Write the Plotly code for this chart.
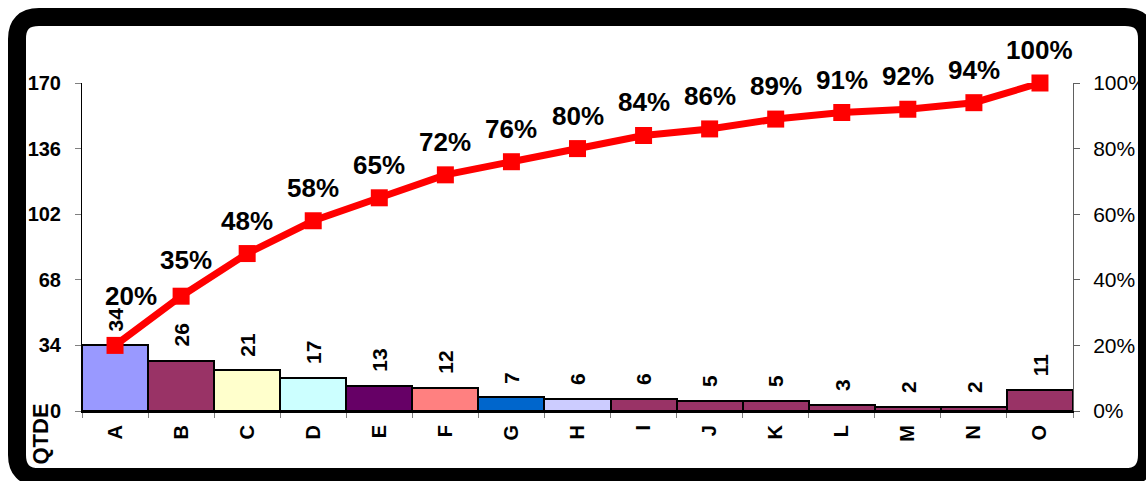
import plotly.graph_objects as go

categories = ["A", "B", "C", "D", "E", "F", "G", "H", "I", "J", "K", "L", "M", "N", "O"]
counts = [34, 26, 21, 17, 13, 12, 7, 6, 6, 5, 5, 3, 2, 2, 11]
cum_pct = [20, 35, 48, 58, 65, 72, 76, 80, 84, 86, 89, 91, 92, 94, 100]
bar_colors = ["#9999FF", "#993366", "#FFFFCC", "#CCFFFF", "#660066", "#FF8080",
              "#0066CC", "#CCCCFF", "#993366", "#993366", "#993366", "#993366",
              "#993366", "#993366", "#993366"]
left_ticks = [0, 34, 68, 102, 136, 170]
right_ticks = [0, 0.2, 0.4, 0.6, 0.8, 1.0]

W, H = 1146, 481
L, R, T, B = 82, 1073, 83, 411
FONT = "Liberation Sans, Arial, sans-serif"


def px(x):
    return (x - L) / (R - L)


def py(y):
    return (B - y) / (B - T)


fig = go.Figure()
fig.add_trace(go.Bar(
    x=categories, y=counts, marker=dict(color=bar_colors, line=dict(color="black", width=2)),
    width=1.0, showlegend=False, hoverinfo="x+y",
))
fig.add_trace(go.Scatter(
    x=categories, y=[v / 100 for v in cum_pct], yaxis="y2", mode="lines+markers",
    line=dict(color="#FF0000", width=7),
    marker=dict(symbol="square", size=17, color="#FF0000"),
    cliponaxis=False, showlegend=False,
))

annotations = []
for c, v in zip(categories, counts):
    annotations.append(dict(
        x=c, y=v, xref="x", yref="y", text=str(v), showarrow=False,
        textangle=-90, yanchor="bottom", xanchor="center", yshift=12,
        font=dict(family=FONT, size=21, color="black", weight="bold"),
    ))
for i, (c, p) in enumerate(zip(categories, cum_pct)):
    xs, ys = (16, 32) if i == 0 else ((5, 19) if i == 1 else (0, 16))
    annotations.append(dict(
        x=c, y=p / 100, xref="x", yref="y2", text=f"{p}%", showarrow=False,
        yanchor="bottom", xanchor="center", yshift=ys, xshift=xs,
        font=dict(family=FONT, size=26, color="black", weight="bold"),
    ))
annotations.append(dict(
    x=px(40), y=py(402), xref="paper", yref="paper", text="QTDE", showarrow=False,
    textangle=-90, xanchor="center", yanchor="top",
    font=dict(family=FONT, size=22, color="black", weight="bold"),
))

# rounded black frame
x0, y0, x1, y1, r = 17, 17, 1147, 477, 22
path = (
    f"M {px(x0 + r)},{py(y0)} L {px(x1 - r)},{py(y0)} Q {px(x1)},{py(y0)} {px(x1)},{py(y0 + r)} "
    f"L {px(x1)},{py(y1 - r)} Q {px(x1)},{py(y1)} {px(x1 - r)},{py(y1)} "
    f"L {px(x0 + r)},{py(y1)} Q {px(x0)},{py(y1)} {px(x0)},{py(y1 - r)} "
    f"L {px(x0)},{py(y0 + r)} Q {px(x0)},{py(y0)} {px(x0 + r)},{py(y0)} Z"
)
shapes = [dict(type="path", xref="paper", yref="paper", path=path,
               line=dict(color="black", width=18), layer="above")]

fig.update_layout(
    width=W, height=H,
    margin=dict(l=L, r=W - R, t=T, b=H - B),
    paper_bgcolor="white", plot_bgcolor="white",
    bargap=0,
    annotations=annotations, shapes=shapes,
    xaxis=dict(
        type="category", showgrid=False, showline=True, linecolor="black", linewidth=2,
        ticks="outside", tickson="boundaries", ticklen=5, tickcolor="#808080",
        tickangle=-90, ticklabelstandoff=4, automargin=False,
        tickfont=dict(family=FONT, size=20, color="black", weight="bold"),
        range=[-0.5, 14.5], fixedrange=True,
    ),
    yaxis=dict(
        range=[0, 170], tickvals=left_ticks, showgrid=False, zeroline=False,
        showline=True, linecolor="black", linewidth=1, automargin=False,
        ticks="outside", ticklen=6, tickcolor="#808080", ticklabelstandoff=10,
        tickfont=dict(family=FONT, size=20, color="black", weight="bold"),
    ),
    yaxis2=dict(
        range=[0, 1], tickvals=right_ticks, tickformat=".0%", overlaying="y", side="right",
        showgrid=False, zeroline=False, showline=True, linecolor="#606060", linewidth=1,
        ticks="outside", ticklen=6, tickcolor="#606060", ticklabelstandoff=9,
        automargin=False,
        tickfont=dict(family=FONT, size=21, color="black"),
    ),
)

fig.write_html("out.html")
